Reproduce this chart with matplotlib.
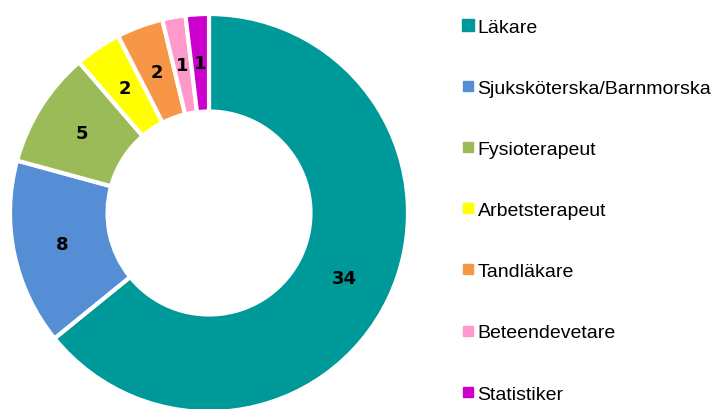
import matplotlib.pyplot as plt
from matplotlib.lines import Line2D

# Yrkesgrupper och antal
kategorier = ['Läkare', 'Sjuksköterska/Barnmorska', 'Fysioterapeut', 'Arbetsterapeut',
              'Tandläkare', 'Beteendevetare', 'Statistiker']
antal = [34, 8, 5, 2, 2, 1, 1]
farger = ['#009999', '#558ED5', '#9BBB59', '#FFFF00', '#F79646', '#FF99CC', '#CC00CC']

W, H = 714, 410
fig = plt.figure(figsize=(W / 100, H / 100), dpi=100)

# Munkdiagrammet
cx, cy, r = 209, 214, 199
ax = fig.add_axes([(cx - r) / W, (H - cy - r) / H, 2 * r / W, 2 * r / H])
total = sum(antal)
wedges, texts, autotexts = ax.pie(
    antal, colors=farger, startangle=90, counterclock=False, radius=1.0,
    autopct=lambda p: f'{round(p * total / 100):d}', pctdistance=0.755,
    wedgeprops=dict(width=0.49, edgecolor='white', linewidth=3),
    textprops=dict(fontsize=13, fontweight='bold', color='black'))
ax.set_xlim(-1, 1)
ax.set_ylim(-1, 1)
ax.set_aspect('equal')
ax.axis('off')

# Förklaring
handles = []
for i, (namn, f) in enumerate(zip(kategorier, farger)):
    handles.append(Line2D([], [], linestyle='none', marker='s', markersize=7 if i else 9,
                          markerfacecolor=f, markeredgecolor=f, label=namn))
fig.legend(handles=handles, loc='upper left', bbox_to_anchor=(462 / W, 1 - 19 / H),
           frameon=False, handlelength=0.6, handletextpad=0.2, labelspacing=2.24,
           borderaxespad=0, borderpad=0,
           prop=dict(family=['Liberation Sans', 'DejaVu Sans'], size=14))

fig.savefig('out.png', dpi=100)
